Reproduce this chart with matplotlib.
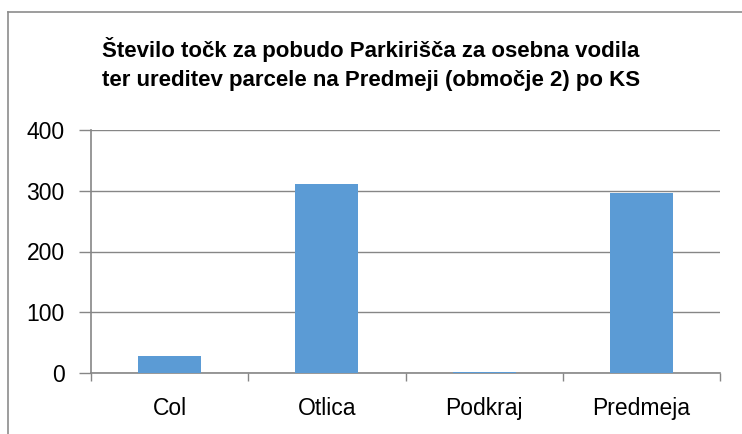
import numpy as np
import matplotlib.pyplot as plt
from matplotlib.lines import Line2D

plt.rcParams['font.family'] = ['Liberation Sans', 'DejaVu Sans']

kraji = ["Col", "Otlica", "Podkraj", "Predmeja"]
tocke = [28, 311, 1, 297]
naslov = "Število točk za pobudo Parkirišča za osebna vodila\nter ureditev parcele na Predmeji (območje 2) po KS"

fig = plt.figure(figsize=(7.42, 4.34), dpi=100)
ax = fig.add_axes([91/742, 1 - 373/434, (720 - 91)/742, (373 - 130)/434])

x = np.arange(len(kraji))
ax.bar(x, tocke, width=0.4, color="#5B9BD5", zorder=3)

ax.set_xlim(-0.5, len(kraji) - 0.5)
ax.set_ylim(0, 400)
ax.set_yticks([0, 100, 200, 300, 400])
ax.set_xticks(x)
ax.set_xticklabels(kraji, fontsize=16.5)
ax.set_xticks(np.arange(len(kraji) + 1) - 0.5, minor=True)
ax.tick_params(axis="x", which="major", length=0, pad=17)
ax.tick_params(axis="x", which="minor", length=6, color="#868686", width=1)
ax.tick_params(axis="y", length=9, color="#868686", width=1, labelsize=16.5, pad=10)

ax.yaxis.grid(True, color="#868686", linewidth=1, zorder=0)
for s in ["top", "right"]:
    ax.spines[s].set_visible(False)
for s in ["left", "bottom"]:
    ax.spines[s].set_color("#868686")
    ax.spines[s].set_linewidth(1.2)

fig.text(0.5, 1 - 64/434, naslov, ha="center", va="center", fontsize=16,
         fontweight="bold", linespacing=1.55)

# okvir grafikona (viden samo levo in zgoraj)
fig.add_artist(Line2D([8/742, 8/742], [0, 1 - 12/434], color="#8c8c8c", linewidth=1.2))
fig.add_artist(Line2D([8/742, 1], [1 - 12/434, 1 - 12/434], color="#8c8c8c", linewidth=1.2))

fig.savefig("out.png", dpi=100)
